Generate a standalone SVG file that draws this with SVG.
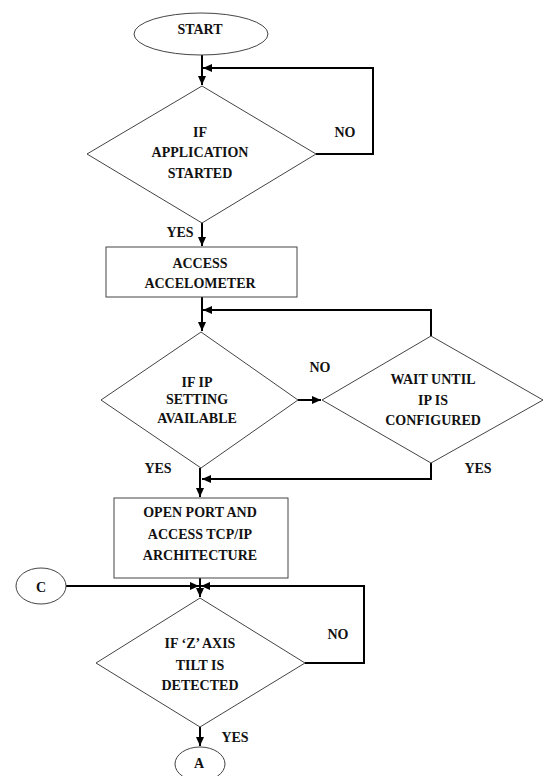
<svg xmlns="http://www.w3.org/2000/svg" width="549" height="776" viewBox="0 0 549 776">
<defs>
<style>
.shape{fill:#fff;stroke:#444;stroke-width:1}
.conn{fill:none;stroke:#000;stroke-width:2}
text{font-family:"Liberation Serif","Times New Roman",serif;font-weight:bold;font-size:14px;fill:#111;text-anchor:middle}
</style>
<marker id="ah" markerUnits="userSpaceOnUse" markerWidth="10" markerHeight="10" refX="9" refY="5" orient="auto">
<path d="M0,1 L9,5 L0,9 Z" fill="#000"/>
</marker>
</defs>
<rect width="549" height="776" fill="#fff"/>
<g id="connectors">
<path class="conn" d="M202,55 V85" marker-end="url(#ah)"/>
<path class="conn" d="M316,154 H373 V68 H203" marker-end="url(#ah)"/>
<path class="conn" d="M202,223 V246" marker-end="url(#ah)"/>
<path class="conn" d="M202,297 V331" marker-end="url(#ah)"/>
<path class="conn" d="M431,336 V310 H203" marker-end="url(#ah)"/>
<path class="conn" d="M298,400 H321" marker-end="url(#ah)"/>
<path class="conn" d="M431,463 V479 H202" marker-end="url(#ah)"/>
<path class="conn" d="M200,468 V497" marker-end="url(#ah)"/>
<path class="conn" d="M200,578 V597" marker-end="url(#ah)"/>
<path class="conn" d="M66,586 H199" marker-end="url(#ah)"/>
<path class="conn" d="M305,663 H364 V586 H201" marker-end="url(#ah)"/>
<path class="conn" d="M200,727 V746" marker-end="url(#ah)"/>
</g>
<g id="start">
<ellipse class="shape" cx="201" cy="34" rx="67" ry="21"/>
<text x="200" y="34">START</text>
</g>
<g id="d1">
<polygon class="shape" points="202,86 316,154 202,223 87,154"/>
<text x="200" y="137">IF</text>
<text x="200" y="157">APPLICATION</text>
<text x="200" y="178">STARTED</text>
</g>
<g id="r1">
<rect class="shape" x="106" y="247" width="191" height="50"/>
<text x="200" y="268">ACCESS</text>
<text x="200" y="288">ACCELOMETER</text>
</g>
<g id="d2">
<polygon class="shape" points="201,332 298,400 201,468 101,400"/>
<text x="197" y="387">IF IP</text>
<text x="197" y="404">SETTING</text>
<text x="197" y="423">AVAILABLE</text>
</g>
<g id="d3">
<polygon class="shape" points="431,336 543,400 431,463 322,400"/>
<text x="433" y="384">WAIT UNTIL</text>
<text x="433" y="405">IP IS</text>
<text x="433" y="425">CONFIGURED</text>
</g>
<g id="r2">
<rect class="shape" x="114" y="498" width="174" height="80"/>
<text x="200" y="517">OPEN PORT AND</text>
<text x="200" y="539">ACCESS TCP/IP</text>
<text x="200" y="560">ARCHITECTURE</text>
</g>
<g id="c">
<ellipse class="shape" cx="41" cy="586" rx="25" ry="18"/>
<text x="41" y="592">C</text>
</g>
<g id="d4">
<polygon class="shape" points="200,598 305,663 200,727 96,663"/>
<text x="200" y="648">IF ‘Z’ AXIS</text>
<text x="200" y="670">TILT IS</text>
<text x="200" y="690">DETECTED</text>
</g>
<g id="a">
<ellipse class="shape" cx="200" cy="764" rx="25" ry="17"/>
<text x="199" y="768">A</text>
</g>
<g id="labels">
<text x="345" y="137">NO</text>
<text x="180" y="237">YES</text>
<text x="320" y="372">NO</text>
<text x="158" y="473">YES</text>
<text x="478" y="473">YES</text>
<text x="338" y="639">NO</text>
<text x="235" y="742">YES</text>
</g>
</svg>
